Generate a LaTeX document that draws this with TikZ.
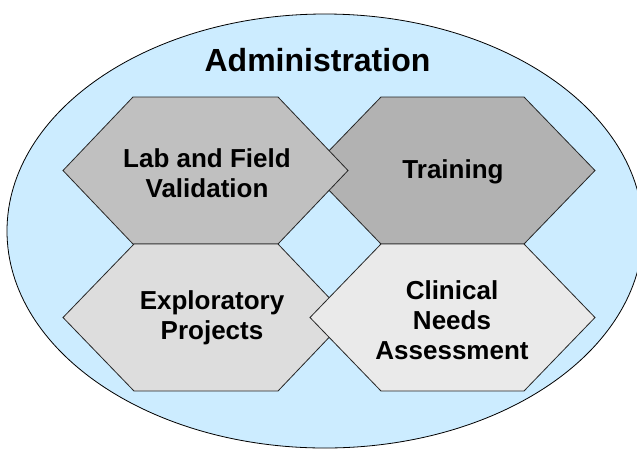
\documentclass[tikz,border=0pt]{standalone}
\usepackage{fontspec}
\setmainfont{Liberation Sans}
\definecolor{ellfill}{HTML}{CCECFF}
\definecolor{labfill}{HTML}{C0C0C0}
\definecolor{trainfill}{HTML}{B2B2B2}
\definecolor{explfill}{HTML}{DDDDDD}
\definecolor{clinfill}{HTML}{EAEAEA}
\tikzset{
  hexbox/.style={draw=black!85, line width=0.8pt, line join=miter},
  hexlabel/.style={align=center, font=\bfseries\fontsize{26}{30}\selectfont, inner sep=0pt},
  titlelabel/.style={font=\bfseries\fontsize{32}{38}\selectfont, inner sep=0pt}
}
\begin{document}
\begin{tikzpicture}[x=1pt,y=-1pt]
\useasboundingbox (0,0) rectangle (637,448);
\clip (0,0) rectangle (637,448);
% outer ellipse
\draw[fill=ellfill, draw=black, line width=0.8pt] (325,231) ellipse [x radius=318, y radius=217];
% hexagons
\draw[hexbox, fill=trainfill] (310,170.5) -- (381,97) -- (524,97) -- (595,170.5) -- (524,244) -- (381,244) -- cycle;
\draw[hexbox, fill=labfill] (63,170.5) -- (133,97) -- (278,97) -- (348,170.5) -- (278,244) -- (133,244) -- cycle;
\draw[hexbox, fill=explfill] (63,317.5) -- (134,244) -- (278,244) -- (348,317.5) -- (278,391) -- (134,391) -- cycle;
\draw[hexbox, fill=clinfill] (310,317.5) -- (381,244) -- (524,244) -- (595,317.5) -- (524,391) -- (381,391) -- cycle;
% labels
\node[titlelabel] (admin) at (317.5,60) {Administration};
\node[hexlabel] (lab) at (207,173) {Lab and Field\\Validation};
\node[hexlabel] (train) at (453,172) {Training};
\node[hexlabel] (expl) at (212,318) {Exploratory\\Projects};
\node[hexlabel] (clin) at (452,320) {Clinical\\Needs\\Assessment};
\end{tikzpicture}
\end{document}
